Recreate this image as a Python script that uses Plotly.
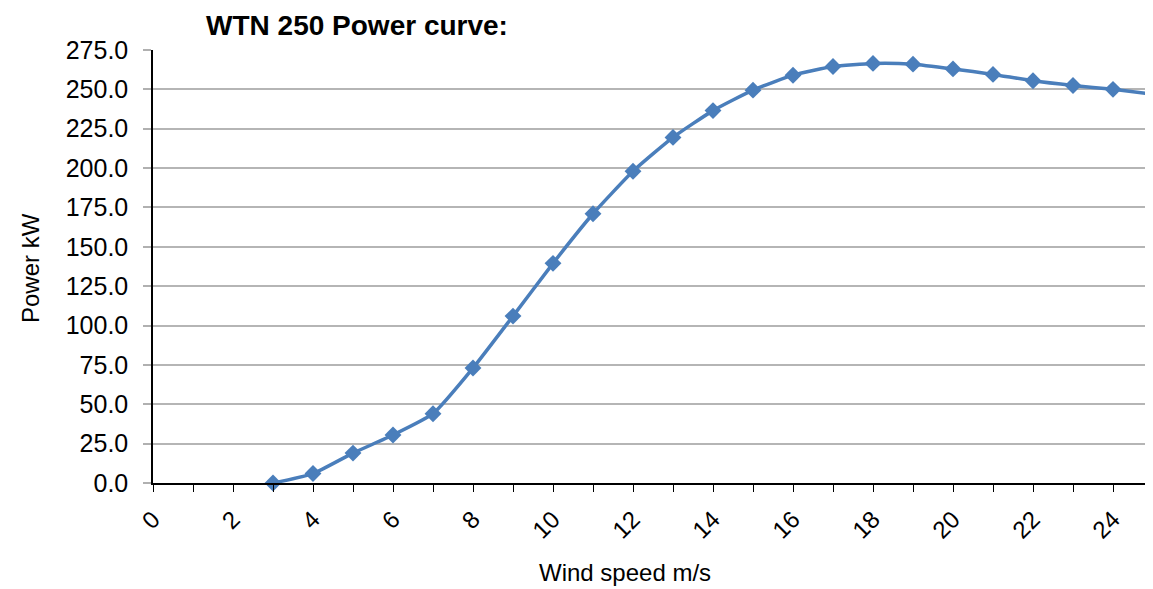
import plotly.graph_objects as go

wind_speed = [3, 4, 5, 6, 7, 8, 9, 10, 11, 12, 13, 14, 15, 16, 17, 18, 19, 20, 21, 22, 23, 24, 25]
power_kw = [0, 6, 19, 30.5, 44, 73, 106, 139.5, 171, 198, 219.5, 236.5, 249.5, 259, 264.5, 266.5, 266, 263, 259.5, 255.5, 252.5, 250, 247]

x_tick_vals = list(range(0, 26))
x_tick_text = [str(v) if v % 2 == 0 else "" for v in x_tick_vals]
y_tick_vals = [0, 25, 50, 75, 100, 125, 150, 175, 200, 225, 250, 275]

W, H = 1145, 581  # page body has an 8px margin
OFF = 8
PL, PR, PT, PB = 153, 1153, 50, 483  # plot area in page pixels

def px_x(p):
    return (p - PL) / (PR - PL)

def px_y(p):
    return (PB - p) / (PB - PT)

fig = go.Figure()
fig.add_trace(go.Scatter(
    x=wind_speed, y=power_kw, mode="lines+markers",
    line=dict(color="#4a7ebb", width=3.5, shape="spline", smoothing=0.5),
    marker=dict(symbol="diamond", size=13, color="#4a7ebb"),
    cliponaxis=False,
))

font_family = "Liberation Sans, Arial, sans-serif"
fig.update_layout(
    width=W, height=H,
    paper_bgcolor="white", plot_bgcolor="white",
    margin=dict(l=PL - OFF, r=0, t=PT - OFF, b=H - (PB - OFF)),
    showlegend=False,
    font=dict(family=font_family, size=24, color="#000000"),
    title=dict(text="<b>WTN 250 Power curve:</b>", x=px_x(357), xanchor="center",
               xref="paper", y=1 - (25 - OFF) / H, yanchor="middle", yref="container",
               font=dict(size=28, family=font_family)),
    annotations=[
        dict(text="Wind speed m/s", x=px_x(625), y=px_y(572), xref="paper", yref="paper",
             xanchor="center", yanchor="middle", showarrow=False,
             font=dict(size=24, family=font_family)),
        dict(text="Power kW", x=px_x(30), y=px_y(268), xref="paper", yref="paper",
             xanchor="center", yanchor="middle", showarrow=False, textangle=-90,
             font=dict(size=24, family=font_family)),
    ],
)
fig.update_xaxes(
    range=[0, 25], tickmode="array", tickvals=x_tick_vals, ticktext=x_tick_text,
    tickangle=-45, ticks="outside", ticklen=7, tickcolor="#000", tickwidth=1,
    showline=True, linecolor="#000", linewidth=1.5, showgrid=False, zeroline=False,
    tickfont=dict(size=24), ticklabelstandoff=4,
)
fig.update_yaxes(
    range=[0, 275], tickmode="array", tickvals=y_tick_vals, tickformat=".1f",
    ticks="outside", ticklen=8, tickcolor="#b0b0b0", tickwidth=2,
    showline=True, linecolor="#000", linewidth=1.5,
    showgrid=True, gridcolor="#b5b5b5", gridwidth=2, zeroline=False,
    tickfont=dict(size=25), ticklabelstandoff=10,
)
fig.write_html("out.html")
